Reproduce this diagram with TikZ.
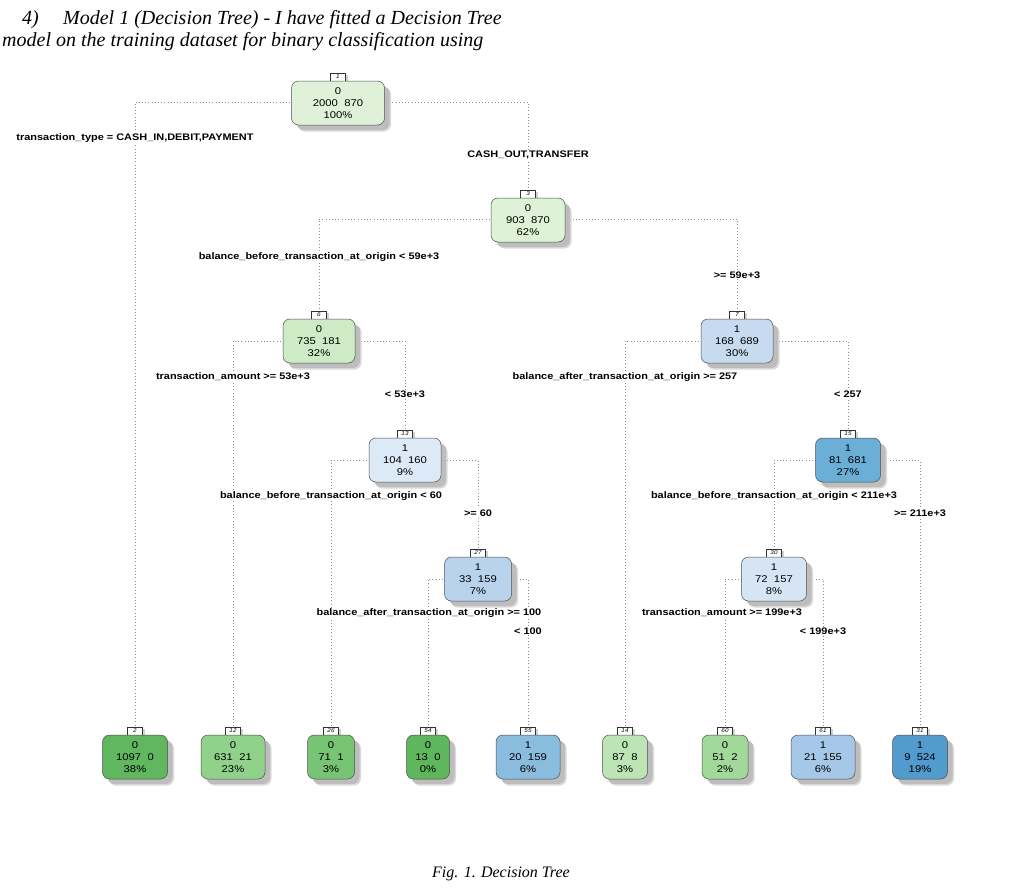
\documentclass[tikz,border=0pt]{standalone}
\usepackage{fontspec}
\usetikzlibrary{shadows}
\setmainfont{Liberation Serif}
\newfontfamily\sansst[FakeStretch=1.15]{Liberation Sans}
\newcommand{\nodefont}{\sansst\fontsize{9.8}{12}\selectfont}
\newcommand{\labfont}{\sansst\bfseries\fontsize{9.5}{11}\selectfont}
\newcommand{\numfont}{\sansst\itshape\fontsize{5.5}{6}\selectfont}
\definecolor{cA}{RGB}{223,242,217}
\definecolor{cB}{RGB}{221,242,214}
\definecolor{cC}{RGB}{205,235,197}
\definecolor{cD}{RGB}{198,219,239}
\definecolor{cE}{RGB}{220,233,246}
\definecolor{cF}{RGB}{107,174,214}
\definecolor{cG}{RGB}{185,211,237}
\definecolor{cH}{RGB}{213,229,244}
\definecolor{lA}{RGB}{96,183,96}
\definecolor{lB}{RGB}{145,210,138}
\definecolor{lC}{RGB}{118,196,116}
\definecolor{lD}{RGB}{94,182,93}
\definecolor{lE}{RGB}{138,188,222}
\definecolor{lF}{RGB}{188,228,180}
\definecolor{lG}{RGB}{161,217,155}
\definecolor{lH}{RGB}{166,200,232}
\definecolor{lI}{RGB}{82,155,206}
\tikzset{
  tn/.style={draw=black!70, line width=0.5pt, rounded corners=7pt, align=center,
    font=\nodefont, inner sep=1pt, minimum height=44pt,
    drop shadow={shadow xshift=6.5pt, shadow yshift=-6.5pt, fill=black!18, opacity=0.8},
    drop shadow={shadow xshift=5pt, shadow yshift=-5pt, fill=black!30, opacity=0.7}},
  nl/.style={draw=black!80, line width=0.4pt, fill=white, font=\numfont, inner sep=0.8pt,
    minimum width=15pt, minimum height=8pt, anchor=south,
    drop shadow={shadow xshift=2.5pt, shadow yshift=-2.5pt, fill=black!25, opacity=0.7}},
  br/.style={black!45, line width=0.8pt, dash pattern=on 0.8pt off 2.4pt},
  sl/.style={fill=white, font=\labfont, inner sep=1pt},
  tt/.style={font=\fontsize{20}{24}\selectfont\itshape, anchor=base west, inner sep=0pt}
}
\begin{document}
\begin{tikzpicture}[x=1pt,y=-1pt]
\useasboundingbox[fill=white] (0,0) rectangle (1016,891);
% title
\node[tt] (t0) at (22,25) {4)};
\node[tt] (t1) at (63,25) {Model 1 (Decision Tree) - I have fitted a Decision Tree};
\node[tt] (t2) at (2,47) {model on the training dataset for binary classification using};
% number labels
\node[nl] (k1)  at (338,81)  {1};
\node[nl] (k3)  at (528,198) {3};
\node[nl] (k6)  at (319,319) {6};
\node[nl] (k7)  at (737,319) {7};
\node[nl] (k13) at (405,438) {13};
\node[nl] (k15) at (848,438) {15};
\node[nl] (k27) at (478,557) {27};
\node[nl] (k30) at (774,557) {30};
\node[nl] (k2)  at (135,735) {2};
\node[nl] (k12) at (233,735) {12};
\node[nl] (k26) at (331,735) {26};
\node[nl] (k54) at (428,735) {54};
\node[nl] (k55) at (528,735) {55};
\node[nl] (k14) at (625,735) {14};
\node[nl] (k60) at (725,735) {60};
\node[nl] (k61) at (823,735) {61};
\node[nl] (k31) at (920,735) {31};
% branches
\draw[br] (338,102) -| (k2.north);
\draw[br] (338,102) -| (k3.north);
\draw[br] (528,219) -| (k6.north);
\draw[br] (528,219) -| (k7.north);
\draw[br] (319,341) -| (k12.north);
\draw[br] (319,341) -| (k13.north);
\draw[br] (737,341) -| (k14.north);
\draw[br] (737,341) -| (k15.north);
\draw[br] (405,460) -| (k26.north);
\draw[br] (405,460) -| (k27.north);
\draw[br] (848,460) -| (k30.north);
\draw[br] (848,460) -| (k31.north);
\draw[br] (478,579) -| (k54.north);
\draw[br] (478,579) -| (k55.north);
\draw[br] (774,579) -| (k60.north);
\draw[br] (774,579) -| (k61.north);
% inner nodes
\node[tn, fill=cA, minimum width=93pt] (n1)  at (338,103) {0\\2000\ \ 870\\100\%};
\node[tn, fill=cB, minimum width=74pt] (n3)  at (528,220) {0\\903\ \ 870\\62\%};
\node[tn, fill=cC, minimum width=72pt] (n6)  at (319,341) {0\\735\ \ 181\\32\%};
\node[tn, fill=cD, minimum width=72pt] (n7)  at (737,341) {1\\168\ \ 689\\30\%};
\node[tn, fill=cE, minimum width=72pt] (n13) at (405,460) {1\\104\ \ 160\\9\%};
\node[tn, fill=cF, minimum width=65pt] (n15) at (848,460) {1\\81\ \ 681\\27\%};
\node[tn, fill=cG, minimum width=67pt] (n27) at (478,579) {1\\33\ \ 159\\7\%};
\node[tn, fill=cH, minimum width=65pt] (n30) at (774,579) {1\\72\ \ 157\\8\%};
% leaves
\node[tn, fill=lA, minimum width=65pt] (n2)  at (135,757) {0\\1097\ \ 0\\38\%};
\node[tn, fill=lB, minimum width=64pt] (n12) at (233,757) {0\\631\ \ 21\\23\%};
\node[tn, fill=lC, minimum width=47pt] (n26) at (331,757) {0\\71\ \ 1\\3\%};
\node[tn, fill=lD, minimum width=43pt] (n54) at (428,757) {0\\13\ \ 0\\0\%};
\node[tn, fill=lE, minimum width=64pt] (n55) at (528,757) {1\\20\ \ 159\\6\%};
\node[tn, fill=lF, minimum width=45pt] (n14) at (625,757) {0\\87\ \ 8\\3\%};
\node[tn, fill=lG, minimum width=46pt] (n60) at (725,757) {0\\51\ \ 2\\2\%};
\node[tn, fill=lH, minimum width=64pt] (n61) at (823,757) {1\\21\ \ 155\\6\%};
\node[tn, fill=lI, minimum width=55pt] (n31) at (920,757) {1\\9\ \ 524\\19\%};
% split labels
\node[sl] (s1)  at (135,138) {transaction\_type = CASH\_IN,DEBIT,PAYMENT};
\node[sl] (s2)  at (528,155) {CASH\_OUT,TRANSFER};
\node[sl] (s3)  at (319,257) {balance\_before\_transaction\_at\_origin < 59e+3};
\node[sl] (s4)  at (737,275) {>= 59e+3};
\node[sl] (s5)  at (233,377) {transaction\_amount >= 53e+3};
\node[sl] (s6)  at (405,394) {< 53e+3};
\node[sl] (s7)  at (625,377) {balance\_after\_transaction\_at\_origin >= 257};
\node[sl] (s8)  at (848,394) {< 257};
\node[sl] (s9)  at (331,496) {balance\_before\_transaction\_at\_origin < 60};
\node[sl] (s10) at (478,513) {>= 60};
\node[sl] (s11) at (774,496) {balance\_before\_transaction\_at\_origin < 211e+3};
\node[sl] (s12) at (920,513) {>= 211e+3};
\node[sl] (s13) at (429,613) {balance\_after\_transaction\_at\_origin >= 100};
\node[sl] (s14) at (528,631) {< 100};
\node[sl] (s15) at (722,613) {transaction\_amount >= 199e+3};
\node[sl] (s16) at (823,631) {< 199e+3};
% caption
\node[font=\fontsize{16}{19}\selectfont\itshape, anchor=base, inner sep=0pt] (cap) at (501,877) {Fig. 1. Decision Tree};
\end{tikzpicture}
\end{document}
